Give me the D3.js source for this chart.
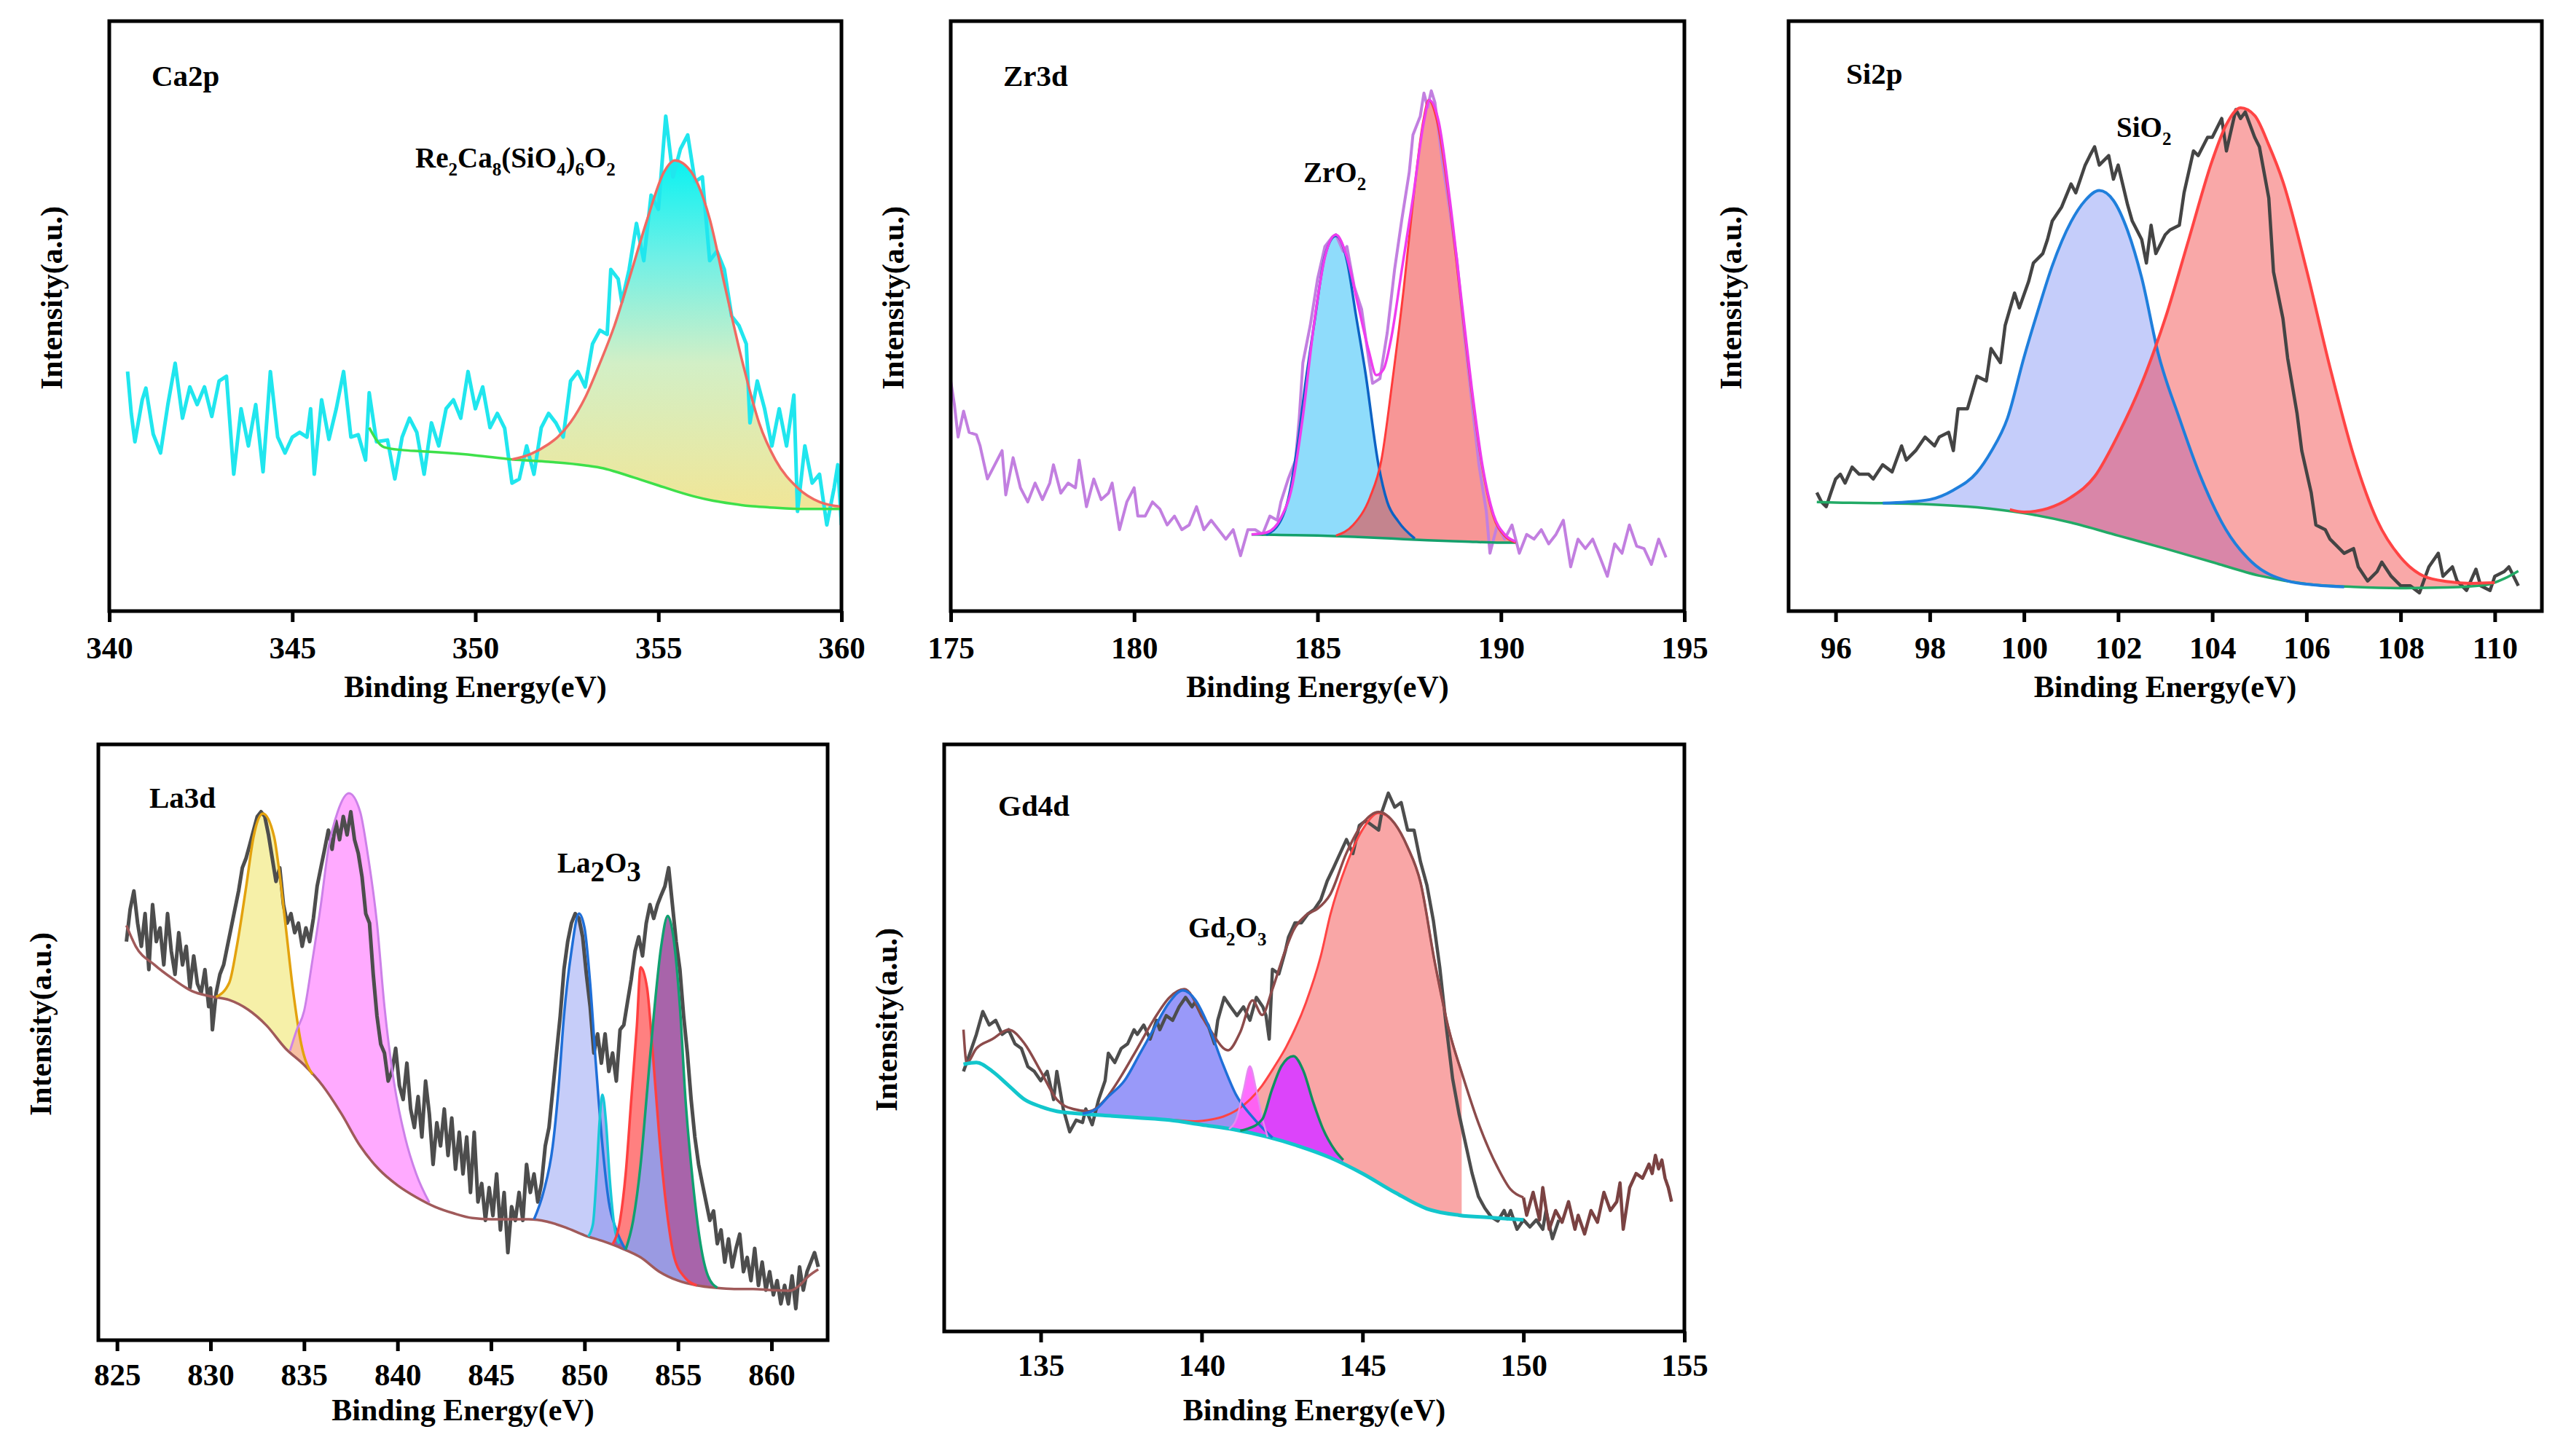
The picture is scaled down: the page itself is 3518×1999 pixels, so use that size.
<!DOCTYPE html>
<html><head><meta charset="utf-8">
<script src="https://cdn.jsdelivr.net/npm/d3@7"></script>
<style>
html,body{margin:0;padding:0;background:#fff;}
text{font-family:"Liberation Serif","Times New Roman",serif;font-weight:bold;fill:#000;}
</style></head>
<body>
<script>
// ================= DATA (intensity in % of frame height) =================
// ---- Ca2p ----
const ca2pTicks = [340,345,350,355,360];
const ca2pRaw = [[340.5,40.6],[340.6,33.5],[340.7,28.7],[340.9,35.8],[341.0,37.8],[341.2,30],[341.4,26.8],[341.6,35],[341.8,42],[342.0,32.7],[342.2,38],[342.4,35],[342.6,38],[342.8,33],[343.0,39],[343.2,39.8],[343.4,23.2],[343.6,34.3],[343.8,28],[344.0,35],[344.2,23.6],[344.4,40.6],[344.6,29.5],[344.8,26.8],[345.0,29.5],[345.2,30.3],[345.4,29.5],[345.5,34.3],[345.6,23.2],[345.8,35.8],[346.0,29.1],[346.2,34.3],[346.4,40.6],[346.6,29.5],[346.8,29.9],[347.0,25.6],[347.1,37],[347.3,28.7],[347.6,29],[347.8,22.4],[348.0,29.5],[348.2,32.7],[348.4,30.3],[348.6,23.2],[348.8,31.9],[349.0,28],[349.2,34.3],[349.4,35.8],[349.6,32.7],[349.8,40.6],[350.0,34.3],[350.2,38],[350.4,31.1],[350.6,33.5],[350.8,31],[351.0,21.7],[351.2,22.4],[351.4,28],[351.6,23.2],[351.8,31.1],[352.0,33.5],[352.2,31.9],[352.4,29.5],[352.6,39],[352.8,40.6],[353.0,38],[353.2,45.3],[353.4,47.6],[353.6,46.9],[353.7,57.9],[353.9,56.3],[354.0,52.4],[354.2,57.9],[354.4,65.7],[354.6,59.4],[354.8,70.5],[355.0,68.1],[355.2,83.9],[355.4,73.6],[355.6,78.3],[355.8,80.7],[356.0,72.8],[356.2,73.6],[356.4,59.4],[356.6,61],[356.8,57.9],[357.0,50],[357.2,48.4],[357.4,45.3],[357.5,31.9],[357.7,39],[357.9,34.3],[358.1,28],[358.3,34.3],[358.5,28],[358.7,36.6],[358.8,16.9],[359.0,28],[359.2,21.7],[359.4,23.2],[359.6,14.6],[359.8,20.9],[359.9,24.8],[360.0,14.6]];
const ca2pBg = [[347.1,31.1],[347.5,27.8],[348,27.3],[348.5,27.1],[349,26.9],[350,26.4],[351,25.7],[352,25.3],[353,24.7],[353.5,24.2],[354,23.3],[354.5,22.3],[355,21.3],[355.5,20.3],[356,19.4],[356.5,18.7],[357,18.2],[357.5,17.8],[358,17.6],[359,17.3],[360,17.3]];
const ca2pFit = [[351,25.7],[351.5,26.6],[352,28.3],[352.25,29.5],[352.6,32],[353,36.2],[353.4,42],[353.8,48.4],[354.2,56.3],[354.7,66.5],[355.15,74.4],[355.45,76.4],[355.9,74.4],[356.4,66.5],[356.8,55.5],[357.3,42.1],[357.75,31.9],[358.2,25.6],[358.8,20.9],[359.4,18.5],[360,17.7]];

// ---- Zr3d ----
const zr3dTicks = [175,180,185,190,195];
const zr3dRaw = [[175.0,39],[175.1,35],[175.2,29.5],[175.35,33.9],[175.5,30.3],[175.7,29.9],[175.8,28],[176.0,22.4],[176.2,24.8],[176.4,27.2],[176.5,19.7],[176.7,26],[176.9,20.9],[177.1,18.5],[177.3,21.7],[177.5,18.9],[177.7,21.7],[177.8,24.8],[178.0,20],[178.2,21.7],[178.4,20.9],[178.5,25.6],[178.7,17.7],[178.9,22.4],[179.1,18.9],[179.3,20],[179.4,21.7],[179.6,13.8],[179.8,18.5],[180.0,20.9],[180.1,16.1],[180.3,16.1],[180.5,18.5],[180.7,17.3],[180.9,14.6],[181.1,16.1],[181.3,13.8],[181.5,14.6],[181.7,17.7],[181.9,13.8],[182.1,15.4],[182.3,13.8],[182.5,12.2],[182.7,13.8],[182.9,9.4],[183.1,13.8],[183.3,13.8],[183.5,13],[183.7,16.1],[183.9,15.4],[184.0,18.5],[184.2,22.4],[184.4,25.6],[184.5,32.7],[184.6,42.1],[184.8,48.4],[185.0,56.3],[185.2,61.8],[185.4,63.4],[185.5,63.8],[185.7,61],[185.8,61.8],[186.0,55],[186.2,51.2],[186.4,42.5],[186.5,38.6],[186.7,39.4],[186.9,47.2],[187.1,57.9],[187.3,66.5],[187.5,74.4],[187.6,80.7],[187.8,83.9],[187.9,87.8],[188.0,85.4],[188.1,88.2],[188.2,86.2],[188.4,76.4],[188.6,68.1],[188.8,59.4],[189.0,46.9],[189.2,35.8],[189.4,24.8],[189.6,16.9],[189.7,9.8],[189.9,14.6],[190.1,12.2],[190.3,14.6],[190.5,9.8],[190.7,13],[190.9,12.2],[191.1,13.8],[191.3,11.4],[191.5,13],[191.7,15.4],[191.9,7.5],[192.1,12.2],[192.3,10.6],[192.5,12.2],[192.7,9.1],[192.9,5.9],[193.1,11.4],[193.3,9.8],[193.5,14.6],[193.7,11],[193.9,10.6],[194.1,7.9],[194.3,12.2],[194.5,9.1]];
const zr3dBg = [[183.2,13.0],[184,12.9],[185,12.8],[186,12.6],[187,12.3],[188,12.0],[189,11.8],[190,11.6],[190.4,11.6]];
const zr3dPeakA = [[183.6,12.95],[184,15.4],[184.2,19],[184.45,28],[184.7,40],[184.9,48.4],[185.2,60.2],[185.5,63.6],[185.8,59.4],[186.05,50],[186.3,40.6],[186.66,24.8],[186.9,18.5],[187.2,15.2],[187.65,12.3]];
const zr3dPeakB = [[185.5,12.8],[185.97,14.6],[186.43,19.3],[186.74,25.6],[187.04,39],[187.35,54.7],[187.58,68.1],[187.88,83],[188.03,86.6],[188.26,83],[188.57,70.5],[188.87,54.7],[189.18,38.2],[189.48,24.8],[189.79,16.1],[190.09,12.8],[190.4,11.6]];
const zr3dFit = [[183.2,13.0],[183.6,13.3],[184,15.8],[184.3,21],[184.6,33],[184.9,48.5],[185.2,60],[185.5,63.8],[185.8,60],[186.1,52],[186.4,44],[186.6,40],[186.8,41],[187,46],[187.3,58],[187.6,70],[187.9,83],[188.05,86.6],[188.3,83],[188.6,70],[188.9,54],[189.2,38],[189.5,24.5],[189.8,16.3],[190.1,13],[190.4,11.8]];

// ---- Si2p ----
const si2pTicks = [96,98,100,102,104,106,108,110];
const si2pRaw = [[95.6,20.1],[95.7,18.5],[95.8,17.7],[95.9,20.1],[96.0,22.4],[96.1,23.2],[96.2,21.7],[96.35,24.4],[96.5,23.2],[96.7,23.2],[96.8,22.4],[97.0,24.8],[97.2,23.6],[97.4,28],[97.5,25.6],[97.7,27.2],[97.9,29.5],[98.1,28],[98.2,29.5],[98.4,30.3],[98.5,27.2],[98.6,34.3],[98.8,34.3],[99.0,39.8],[99.2,39],[99.3,44.5],[99.5,42.1],[99.6,48.4],[99.8,53.9],[99.9,51.4],[100.1,55.9],[100.2,59],[100.4,60.6],[100.5,63],[100.6,66.1],[100.8,68.5],[101.0,72.4],[101.1,70.9],[101.3,75.6],[101.4,77.2],[101.5,78.7],[101.6,75.6],[101.8,77.2],[101.9,73.2],[102.0,75.6],[102.2,68.9],[102.3,66.1],[102.5,63],[102.6,59],[102.7,65.4],[102.8,60.6],[103.0,63.8],[103.1,64.6],[103.3,65.4],[103.4,70.9],[103.6,78],[103.7,77.2],[103.9,80.3],[104.0,80.3],[104.2,83.5],[104.3,78],[104.5,85],[104.6,83.5],[104.7,84.6],[104.9,80.3],[105.0,78.7],[105.2,70],[105.3,57.5],[105.5,49.6],[105.6,42.9],[105.8,33.5],[105.9,27.2],[106.1,20.1],[106.2,14.6],[106.4,13.8],[106.5,12.2],[106.7,10.6],[106.8,9.8],[107.0,10.6],[107.1,7.5],[107.3,5.1],[107.5,6.7],[107.6,8.3],[107.8,5.9],[108.0,4.3],[108.2,4.3],[108.4,3.1],[108.6,7.5],[108.8,9.8],[108.9,5.9],[109.1,7.5],[109.2,5.1],[109.4,3.5],[109.6,7.1],[109.7,4.3],[109.9,3.5],[110.0,5.9],[110.2,6.7],[110.3,7.5],[110.4,5.9],[110.5,4.3]];
const si2pBg = [[95.6,18.5],[96,18.4],[97,18.3],[98,18.1],[99,17.6],[100,16.6],[101,15],[102,12.8],[103,10.6],[104,8.3],[105,6],[106,4.6],[107,4.1],[108,3.9],[109,4.0],[109.8,4.4],[110.2,5.5],[110.5,6.8]];
const si2pPeakA = [[97,18.3],[97.5,18.5],[98,18.9],[98.5,20.5],[99,23.5],[99.3,27],[99.65,32.7],[100,43],[100.3,51],[100.6,58.5],[101,66],[101.3,69.6],[101.6,71.3],[101.9,69.6],[102.2,64.5],[102.5,56.5],[102.85,43.7],[103.3,32.7],[103.73,23.2],[104.29,13.8],[104.84,8.3],[105.6,5.1],[106.2,4.4],[106.8,4.1]];
const si2pPeakB = [[99.7,17.2],[100,16.8],[100.5,17.4],[101,19.3],[101.5,22.8],[102,29.9],[102.5,38.6],[103,49.6],[103.5,63],[104,76.4],[104.3,82.5],[104.6,85.3],[104.9,84],[105.2,79],[105.5,72.8],[106,57.9],[106.5,41.3],[107,26.4],[107.5,15.4],[108,9.1],[108.5,5.9],[109,5],[109.5,4.7],[110,4.8]];

// ---- La3d ----
const la3dTicks = [825,830,835,840,845,850,855,860];
const la3dRaw = [[825.5,66.9],[825.7,72.3],[825.9,75.4],[826.1,70],[826.3,66.1],[826.5,71.6],[826.7,62.2],[826.9,73.1],[827.1,66.9],[827.3,69.2],[827.5,63],[827.7,71.6],[827.9,65.3],[828.1,61.4],[828.3,68.4],[828.5,63],[828.7,66.1],[828.9,59.1],[829.1,64.5],[829.3,59.8],[829.5,58.3],[829.7,62.2],[829.9,56],[830.0,59.1],[830.1,52.1],[830.3,58.3],[830.5,61.4],[830.7,63],[830.9,66.1],[831.1,69.2],[831.3,72.3],[831.5,75.4],[831.7,79.3],[831.9,80.9],[832.1,83.2],[832.3,85.6],[832.5,87.9],[832.7,88.7],[832.9,87.9],[833.1,84.8],[833.3,80.9],[833.5,77],[833.7,79.3],[833.9,73.1],[834.1,70],[834.3,71.6],[834.5,68.4],[834.7,70],[834.9,66.1],[835.1,69.2],[835.3,66.9],[835.5,70.8],[835.7,76.2],[835.9,79.3],[836.1,82.4],[836.3,85.6],[836.5,82.4],[836.7,87.1],[836.9,84],[837.1,87.9],[837.3,84.8],[837.5,88.7],[837.7,84],[837.9,81.7],[838.1,77.8],[838.3,71.6],[838.5,70],[838.7,61.4],[838.9,54.4],[839.1,49.7],[839.3,48.2],[839.5,43.5],[839.7,45.1],[839.9,49],[840.1,42.7],[840.3,40.4],[840.5,46.5],[840.7,38.8],[840.9,35.7],[841.1,40.9],[841.3,34.1],[841.5,43.5],[841.7,38],[841.9,29.5],[842.1,36.5],[842.3,32.6],[842.5,38.8],[842.7,31],[842.9,37.3],[843.1,28.7],[843.3,34.9],[843.5,27.9],[843.7,34.1],[843.9,24.8],[844.1,34.9],[844.3,23.2],[844.5,26.3],[844.7,20.1],[844.9,25.6],[845.1,20.9],[845.3,27.9],[845.5,18.5],[845.7,24.8],[845.9,14.7],[846.1,22.4],[846.3,20.1],[846.5,24.8],[846.7,20.1],[846.9,29.5],[847.1,24.8],[847.3,27.9],[847.5,23.2],[847.7,26.3],[847.9,32.6],[848.1,35.7],[848.3,41.9],[848.5,48.2],[848.7,54.4],[848.9,62.2],[849.1,66.9],[849.3,70],[849.5,71.6],[849.7,70.8],[849.9,67.7],[850.1,61.4],[850.3,56],[850.5,48.2],[850.7,51.4],[850.9,46.5],[851.1,51.4],[851.3,45.1],[851.5,48.2],[851.7,43.5],[851.9,52.1],[852.1,52.9],[852.3,56.8],[852.5,60.6],[852.7,65.3],[852.9,67.7],[853.1,64.5],[853.3,70],[853.5,73.1],[853.7,70.8],[853.9,73.1],[854.1,74.7],[854.3,76.2],[854.5,79.3],[854.7,73.1],[854.9,66.9],[855.1,62.2],[855.3,54.4],[855.5,48.2],[855.7,40.4],[855.9,34.1],[856.1,29.5],[856.3,26.3],[856.5,23.2],[856.7,20.1],[856.9,21.7],[857.1,16.2],[857.3,18.5],[857.5,13.1],[857.7,17],[857.9,12.3],[858.1,15.4],[858.3,17.8],[858.5,11.5],[858.7,13.9],[858.9,10],[859.1,15.4],[859.3,9.2],[859.5,13.1],[859.7,8.4],[859.9,11.5],[860.1,7.6],[860.3,10],[860.5,6.1],[860.7,9.2],[860.9,6.1],[861.1,10.8],[861.3,5.3],[861.5,12.3],[861.7,8.4],[861.9,11.5],[862.1,13.1],[862.3,14.7],[862.5,12.3]];
const la3dBg = [[825.5,69.6],[826,66.1],[827,63],[828,60.6],[829,58.6],[830,57.7],[831,57.1],[832,55.5],[833,52.8],[834,49],[835,46.2],[836,42.7],[837,38],[838,32.6],[839,28.7],[840,26],[841,24],[842,22.4],[843,21.3],[844,20.5],[845,20.3],[846,20.3],[847,20.3],[848,19.9],[849,18.9],[850,17.6],[851,16.6],[852,15.4],[853,13.9],[854,11.5],[855,10],[856,9.2],[857,8.8],[858,8.6],[859,8.6],[860,8.4],[861,8.3],[861.5,9.2],[862,10.8],[862.5,11.9]];
const la3dPeakA = [[830.3,57.6],[831,60],[831.4,66],[831.9,76],[832.3,84.5],[832.8,88.4],[833.4,84.5],[833.65,79.3],[834.0,70],[834.4,59],[834.85,49.7],[835.45,44.6]];
const la3dPeakB = [[834.25,48.6],[834.6,52],[835,55.2],[835.45,63.8],[835.9,73.1],[836.3,82.5],[836.8,88.7],[837.4,91.8],[838,88.7],[838.4,81.7],[838.9,70],[839.3,56],[839.8,43.5],[840.4,34.1],[841,27.9],[841.7,23.1]];
const la3dPeakC = [[847.3,20.3],[847.8,24.8],[848.3,32.6],[848.6,41.9],[848.9,54.4],[849.3,65.3],[849.7,71.6],[850,69.2],[850.3,59.9],[850.6,46.6],[850.96,32.6],[851.3,23.2],[851.7,18.5],[852.2,15.2]];
const la3dPeakD = [[850.2,17.4],[850.45,19.5],[850.65,28],[850.8,36.5],[850.96,41.2],[851.15,36.5],[851.35,27],[851.6,19],[851.85,16.2]];
const la3dPeakE = [[851.5,16.1],[851.9,20.1],[852.2,27.9],[852.5,40.4],[852.8,52.8],[853.0,62.6],[853.35,59],[853.65,48.2],[854.0,34.1],[854.4,21.7],[854.8,13.9],[855.4,10.4],[856.0,9.2]];
const la3dPeakF = [[852.2,15.2],[852.6,20.1],[853,29.5],[853.35,41.9],[853.7,54.4],[854.1,66.1],[854.45,71.2],[854.75,67.7],[855.1,56],[855.4,40.4],[855.8,26.3],[856.2,16.2],[856.6,10.8],[857.1,8.8]];

// ---- Gd4d ----
const gd4dTicks = [135,140,145,150,155];
const gd4dRaw = [[132.6,44.3],[132.8,47.4],[133.0,50.6],[133.2,54.5],[133.4,52.2],[133.6,53],[133.8,50.6],[134.0,51.4],[134.2,49],[134.4,48.2],[134.6,45.1],[134.8,44.3],[135.0,42.7],[135.2,44.3],[135.4,39.5],[135.5,44.3],[135.7,37.9],[135.9,34],[136.1,36],[136.3,35.6],[136.4,37.9],[136.6,35.2],[136.8,39.5],[137.0,42.7],[137.1,47.4],[137.3,45.8],[137.5,48.2],[137.7,49],[137.9,51.4],[138.0,50.6],[138.2,52.2],[138.4,49.8],[138.6,53],[138.7,51.4],[138.9,53.8],[139.1,53],[139.3,55.3],[139.5,56.9],[139.7,55.3],[139.8,56.1],[140.0,53.8],[140.2,52.2],[140.4,49],[140.5,53],[140.7,56.9],[140.9,55.3],[141.1,53.8],[141.3,55.3],[141.5,53],[141.7,56.9],[141.9,55.3],[142.0,53.8],[142.1,49.8],[142.2,61.7],[142.4,60.9],[142.6,64.8],[142.7,67.2],[142.9,69.6],[143.1,69.6],[143.3,71.1],[143.5,71.9],[143.7,73.5],[143.9,76.7],[144.1,79],[144.3,81.4],[144.5,83.8],[144.7,81.4],[144.9,86.2],[145.1,87],[145.3,86.2],[145.5,85.4],[145.6,88.5],[145.8,91.7],[146.0,89.3],[146.2,90.1],[146.4,85.4],[146.6,85.4],[146.8,80],[147.0,76],[147.2,70],[147.4,62],[147.6,52],[147.8,43],[148.0,37],[148.2,32],[148.4,27],[148.6,23],[148.8,21],[149.0,19.5],[149.2,18.8],[149.4,20.6],[149.5,19.2],[149.6,20.6],[149.8,17.4],[150.0,19],[150.2,17.8],[150.4,19],[150.6,17.4],[150.7,20.6],[150.9,15.8],[151.1,19]];
const gd4dTail = [[150.0,22.8],[150.1,19.8],[150.3,23.7],[150.5,19],[150.6,24.5],[150.8,17.4],[151.0,20.6],[151.2,18.6],[151.4,22.1],[151.6,17.4],[151.7,19.8],[151.9,16.6],[152.1,20.6],[152.3,18.6],[152.5,23.7],[152.7,20.6],[152.9,22.1],[153.0,25.3],[153.1,17.4],[153.3,24.5],[153.5,26.9],[153.7,26.1],[153.9,28.5],[154.0,26.9],[154.1,30],[154.2,27.7],[154.3,29.2],[154.4,26.1],[154.5,24.5],[154.6,22.1]];
const gd4dFit = [[132.6,51.4],[132.7,45.8],[133,48.2],[133.5,49.8],[134,51.4],[134.5,49],[135,44.3],[135.5,39.5],[136,37.9],[136.5,37.5],[137,39.5],[137.5,43.5],[138,48.2],[138.5,53],[139,56.9],[139.46,58.3],[140.2,51.9],[140.82,47.9],[141.2,51],[141.58,56.4],[141.88,53.9],[142.18,58],[142.56,64.3],[142.86,68.4],[143.24,70.9],[143.6,72],[144,74.5],[144.5,81.5],[145,86.5],[145.5,88.5],[146,86.5],[146.4,82.5],[146.8,76.5],[147.24,63],[147.7,51],[148.08,44.1],[148.6,35.5],[149.2,27.9],[149.6,24.2],[150,22.8]];
const gd4dBg = [[132.6,45.5],[133,45.8],[133.5,44.3],[134,41.9],[134.5,39.5],[135,38.3],[135.5,37.5],[136,37.2],[137,36.8],[138,36.4],[139,36],[140,35.2],[141,34.4],[142,33.2],[143,31.6],[144,29.6],[145,26.9],[146,23.7],[147,20.9],[148,19.8],[149,19.4],[150,19]];
const gd4dPeakA = [[136.3,37.1],[136.7,37.8],[137.1,40],[137.6,42.7],[138.1,47.5],[138.5,51.4],[139,56.1],[139.42,58.1],[139.8,56.5],[140.2,52.2],[140.64,45.8],[141.07,40.3],[141.6,36.4],[142.2,33]];
const gd4dPeakB = [[140.85,34.5],[141.1,36.5],[141.3,41],[141.5,45.2],[141.7,41],[141.9,36],[142.05,33.1]];
const gd4dPeakC = [[141.2,34.2],[141.42,34.5],[141.88,36.1],[142.18,41.1],[142.48,45.2],[142.85,46.9],[143.16,44.4],[143.47,39],[143.77,34.5],[144.15,30.8],[144.4,29.2]];
const gd4dPeakD = [[138.5,36.2],[139.2,36],[139.8,35.8],[140.3,36.1],[140.67,36.6],[141.12,37.8],[141.5,39.5],[141.88,41.9],[142.25,45],[142.63,48.5],[143.24,56],[143.7,63.9],[144,71],[144.5,79.5],[145,85.5],[145.5,88.3],[146,86.5],[146.4,82.5],[146.8,76.5],[147.24,63],[147.7,51],[148.08,44.1]];

// ---- text ----
const xTitle = "Binding Energy(eV)";
const yTitle = "Intensity(a.u.)";
const ca2pName = "Ca2p", zr3dName = "Zr3d", si2pName = "Si2p", la3dName = "La3d", gd4dName = "Gd4d";
const ca2pPhase = [["Re",0],["2",1],["Ca",0],["8",1],["(SiO",0],["4",1],[")",0],["6",1],["O",0],["2",1]];
const zr3dPhase = [["ZrO",0],["2",1]];
const si2pPhase = [["SiO",0],["2",1]];
const la3dPhase = [["La",0],["2",2],["O",0],["3",2]];
const gd4dPhase = [["Gd",0],["2",1],["O",0],["3",1]];

// ================= LAYOUT / STYLE =================
const W = 3518, H = 1999;
const FONT = '"Liberation Serif","Times New Roman",serif';
const svg = d3.select("body").append("svg").attr("width", W).attr("height", H);
const defs = svg.append("defs");
let clipId = 0;

function interp(arr, x) {
  if (x <= arr[0][0]) return arr[0][1];
  for (let i = 1; i < arr.length; i++) {
    if (x <= arr[i][0]) {
      const a = arr[i-1], b = arr[i];
      return a[1] + (b[1]-a[1])*(x-a[0])/(b[0]-a[0]);
    }
  }
  return arr[arr.length-1][1];
}

function makePanel(p) {
  const g = svg.append("g");
  const xs = d3.scaleLinear().domain(p.domain).range([p.x0, p.x1]);
  const ys = d3.scaleLinear().domain([0, 100]).range([p.y1, p.y0]);
  const cid = "pc" + (clipId++);
  defs.append("clipPath").attr("id", cid).append("rect")
    .attr("x", p.x0).attr("y", p.y0).attr("width", p.x1 - p.x0).attr("height", p.y1 - p.y0);
  const plot = g.append("g").attr("clip-path", `url(#${cid})`);

  const line = d3.line().x(d => xs(d[0])).y(d => ys(d[1])).curve(d3.curveMonotoneX);
  const rawLine = d3.line().x(d => xs(d[0])).y(d => ys(d[1]));
  const areaOn = (bg) => d3.area().x(d => xs(d[0])).y0(d => ys(interp(bg, d[0]))).y1(d => ys(d[1])).curve(d3.curveMonotoneX);

  p.layers.forEach(L => {
    if (L.type === "fill") {
      plot.append("path").attr("d", areaOn(L.bg)(L.data)).attr("fill", L.fill).attr("fill-opacity", L.opacity ?? 1).attr("stroke", "none");
    } else if (L.type === "overlap") {
      const id = "ov" + (clipId++);
      defs.append("clipPath").attr("id", id).append("path").attr("d", areaOn(L.bg)(L.clip));
      plot.append("path").attr("d", areaOn(L.bg)(L.data)).attr("fill", L.fill).attr("clip-path", `url(#${id})`);
    } else if (L.type === "raw") {
      plot.append("path").attr("d", rawLine(L.data)).attr("fill", "none").attr("stroke", L.color)
        .attr("stroke-width", L.width ?? 4.5).attr("stroke-linejoin", "round");
    } else if (L.type === "line") {
      plot.append("path").attr("d", line(L.data)).attr("fill", "none").attr("stroke", L.color)
        .attr("stroke-width", L.width ?? 3.5).attr("stroke-linejoin", "round");
    } else if (L.type === "gradfill") {
      const gid = "gr" + (clipId++);
      const gr = defs.append("linearGradient").attr("id", gid).attr("gradientUnits", "userSpaceOnUse")
        .attr("x1", 0).attr("x2", 0).attr("y1", ys(L.top)).attr("y2", ys(L.bottom));
      L.stops.forEach(s => gr.append("stop").attr("offset", s[0]).attr("stop-color", s[1]));
      plot.append("path").attr("d", areaOn(L.bg)(L.data)).attr("fill", `url(#${gid})`);
    }
  });

  // frame
  g.append("rect").attr("x", p.x0).attr("y", p.y0).attr("width", p.x1 - p.x0).attr("height", p.y1 - p.y0)
    .attr("fill", "none").attr("stroke", "#000").attr("stroke-width", 5);

  // x axis
  const ax = g.append("g").attr("transform", `translate(0,${p.y1})`)
    .call(d3.axisBottom(xs).tickValues(p.ticks).tickSize(15).tickSizeOuter(0).tickFormat(d3.format("d")));
  ax.attr("font-family", FONT).attr("font-size", 43);
  ax.select(".domain").remove();
  ax.selectAll(".tick line").attr("stroke", "#000").attr("stroke-width", 5);
  ax.selectAll(".tick text").attr("y", p.tickLab - 15).attr("dy", "0.71em")
    .style("font-family", FONT).style("font-weight", "bold")
    .style("font-size", "43px").attr("fill", "#000");

  // titles
  g.append("text").attr("x", (p.x0 + p.x1) / 2).attr("y", p.y1 + p.titleOff)
    .attr("text-anchor", "middle").style("font-size", "42px").text(xTitle);
  g.append("text").attr("transform", `translate(${p.x0 - 65},${(p.y0 + p.y1) / 2 - 25}) rotate(-90)`)
    .attr("text-anchor", "middle").style("font-size", "42px").text(yTitle);

  g.append("text").attr("x", p.x0 + p.name[0]).attr("y", p.y0 + p.name[1]).style("font-size", "41px").text(p.nameText);

  const t = g.append("text").attr("x", p.x0 + p.phasePos[0]).attr("y", p.y0 + p.phasePos[1]).style("font-size", "39px");
  let shift = 0;
  p.phase.forEach(([s, sub]) => {
    const ts = t.append("tspan").text(s);
    const target = sub === 1 ? 11 : (sub === 2 ? 12 : 0);
    ts.attr("dy", target - shift);
    shift = target;
    if (sub === 1) ts.style("font-size", "25px");
    else if (sub === 2) ts.style("font-size", "39px");
  });
}

// ---- Panels ----
makePanel({
  x0: 150, x1: 1155, y0: 29, y1: 839, domain: [340, 360], ticks: ca2pTicks, tickLab: 49, titleOff: 118,
  name: [58, 89], nameText: ca2pName, phase: ca2pPhase, phasePos: [420, 201],
  layers: [
    { type: "gradfill", data: ca2pFit, bg: ca2pBg, top: 78, bottom: 18,
      stops: [[0, "#00f2f2"], [0.3, "#6ff0e6"], [0.6, "#d2efc6"], [1, "#f0e698"]] },
    { type: "raw", data: ca2pRaw, color: "#20e6ee", width: 5 },
    { type: "line", data: ca2pBg, color: "#3ee04a", width: 3.5 },
    { type: "line", data: ca2pFit, color: "#f06a62", width: 3.5 }
  ]
});

makePanel({
  x0: 1305, x1: 2312, y0: 29, y1: 839, domain: [175, 195], ticks: zr3dTicks, tickLab: 49, titleOff: 118,
  name: [72, 89], nameText: zr3dName, phase: zr3dPhase, phasePos: [484, 221],
  layers: [
    { type: "fill", data: zr3dPeakA, bg: zr3dBg, fill: "#8fdcfb" },
    { type: "fill", data: zr3dPeakB, bg: zr3dBg, fill: "#f79696" },
    { type: "overlap", data: zr3dPeakA, clip: zr3dPeakB, bg: zr3dBg, fill: "#c4848e" },
    { type: "raw", data: zr3dRaw, color: "#c27fe0", width: 4 },
    { type: "line", data: zr3dBg, color: "#14a06c", width: 3.5 },
    { type: "line", data: zr3dPeakA, color: "#0c62c4", width: 3.5 },
    { type: "line", data: zr3dPeakB, color: "#ff3b3b", width: 3 },
    { type: "line", data: zr3dFit, color: "#ee3cee", width: 3.5 }
  ]
});

makePanel({
  x0: 2455, x1: 3489, y0: 29, y1: 839, domain: [95, 111], ticks: si2pTicks, tickLab: 49, titleOff: 118,
  name: [79, 86], nameText: si2pName, phase: si2pPhase, phasePos: [450, 159],
  layers: [
    { type: "fill", data: si2pPeakA, bg: si2pBg, fill: "#c5cdfa" },
    { type: "fill", data: si2pPeakB, bg: si2pBg, fill: "#f9a8a8" },
    { type: "overlap", data: si2pPeakA, clip: si2pPeakB, bg: si2pBg, fill: "#d986a8" },
    { type: "raw", data: si2pRaw, color: "#444444", width: 4.5 },
    { type: "line", data: si2pBg, color: "#22aa66", width: 3.5 },
    { type: "line", data: si2pPeakA, color: "#1f7fdc", width: 4 },
    { type: "line", data: si2pPeakB, color: "#ff4444", width: 4 }
  ]
});

makePanel({
  x0: 135, x1: 1136, y0: 1022, y1: 1840, domain: [824, 863], ticks: la3dTicks, tickLab: 46, titleOff: 110,
  name: [70, 87], nameText: la3dName, phase: la3dPhase, phasePos: [630, 176],
  layers: [
    { type: "fill", data: la3dPeakA, bg: la3dBg, fill: "#f6f0a8" },
    { type: "fill", data: la3dPeakB, bg: la3dBg, fill: "#ffaaff" },
    { type: "overlap", data: la3dPeakA, clip: la3dPeakB, bg: la3dBg, fill: "#f7c0a2" },
    { type: "fill", data: la3dPeakC, bg: la3dBg, fill: "#c6cdf9" },
    { type: "fill", data: la3dPeakD, bg: la3dBg, fill: "#a4aaf2" },
    { type: "fill", data: la3dPeakE, bg: la3dBg, fill: "#ff8080" },
    { type: "fill", data: la3dPeakF, bg: la3dBg, fill: "#a864aa" },
    { type: "overlap", data: la3dPeakE, clip: la3dPeakF, bg: la3dBg, fill: "#9a9ae2" },
    { type: "overlap", data: la3dPeakC, clip: la3dPeakE, bg: la3dBg, fill: "#8c64b4" },
    { type: "raw", data: la3dRaw, color: "#4d4d4d", width: 5 },
    { type: "line", data: la3dBg, color: "#a05a5a", width: 3.5 },
    { type: "line", data: la3dPeakA, color: "#e3a20e", width: 3.5 },
    { type: "line", data: la3dPeakB, color: "#cc80e8", width: 3 },
    { type: "line", data: la3dPeakC, color: "#1f6fd8", width: 3.5 },
    { type: "line", data: la3dPeakD, color: "#18c8d8", width: 3.5 },
    { type: "line", data: la3dPeakE, color: "#ff4040", width: 3.5 },
    { type: "line", data: la3dPeakF, color: "#10a070", width: 3.5 }
  ]
});

makePanel({
  x0: 1296, x1: 2312, y0: 1022, y1: 1828, domain: [132, 155], ticks: gd4dTicks, tickLab: 45, titleOff: 122,
  name: [74, 98], nameText: gd4dName, phase: gd4dPhase, phasePos: [335, 265],
  layers: [
    { type: "fill", data: gd4dPeakD, bg: gd4dBg, fill: "#f9a6a6" },
    { type: "fill", data: gd4dPeakA, bg: gd4dBg, fill: "#9090f8", opacity: 0.92 },
    { type: "fill", data: gd4dPeakB, bg: gd4dBg, fill: "#ff55ff", opacity: 0.85 },
    { type: "fill", data: gd4dPeakC, bg: gd4dBg, fill: "#dc44fa" },
    { type: "raw", data: gd4dRaw, color: "#4d4d4d", width: 4.5 },
    { type: "raw", data: gd4dTail, color: "#7a4242", width: 4.5 },
    { type: "line", data: gd4dPeakD, color: "#ff4444", width: 3 },
    { type: "line", data: gd4dFit, color: "#8c4b4b", width: 3.5 },
    { type: "line", data: gd4dBg, color: "#12c6cc", width: 5 },
    { type: "line", data: gd4dPeakA, color: "#1f6fd8", width: 3.5 },
    { type: "line", data: gd4dPeakB, color: "#e48af0", width: 2.5 },
    { type: "line", data: gd4dPeakC, color: "#0f9060", width: 3.5 }
  ]
});
</script>
</body></html>
